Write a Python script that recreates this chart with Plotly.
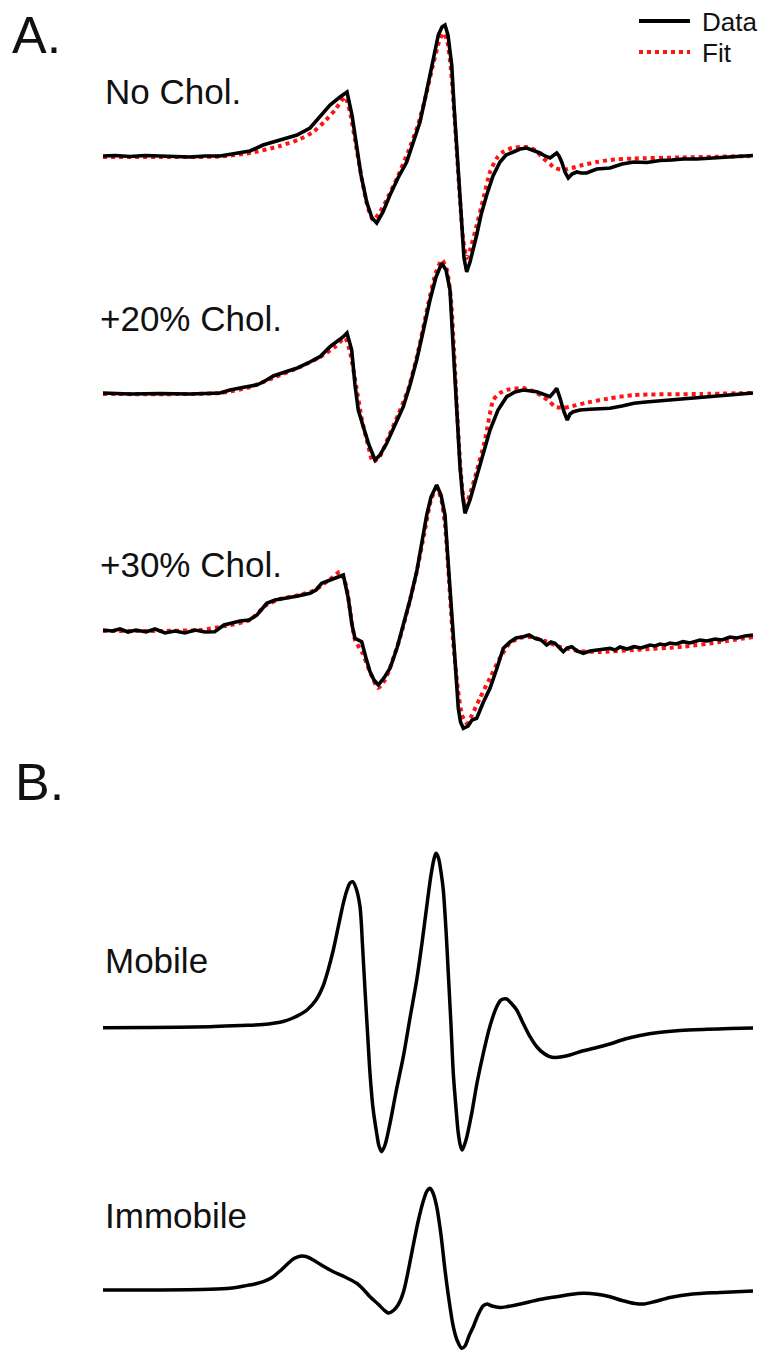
import numpy as np
import plotly.graph_objects as go

# ---------------- data (field in arbitrary units, signal in arbitrary units, up = positive) -------------
# A. No cholesterol
nochol_x = [103,115,130,145,160,175,190,205,220,235,250,263,280,297,310,320,330,340,347,352,356.7,361,366.7,372,376.7,383,390,398,406.7,413,420,425,430,434,438.3,442,445,448,451.7,454,456.7,459,461.7,464,466.7,470,476.7,481,486.7,493,500,506,513.3,520,526.7,533,540,545,550,554,556.7,559,561.7,565,568.3,572,576.7,581,586.7,596.7,610,622,634,647,660,672,683,697,710,720,730,742,753]
nochol_data = [0,0.5,-0.5,0.5,0,-0.5,-1,0,0,2.5,5,11,16,21,28,39,51,59,64,41,8,-19,-46,-62,-67,-56,-39,-22,-6,13,34,57,81,101,121,129,131,121,91,51,8,-34,-76,-102,-116,-106,-79,-59,-39,-20,-6,1,4,7,8,6,3,0,-2,1,3,0,-6,-16,-22,-18,-16,-17,-17,-13,-12,-8,-6,-6.5,-4.5,-4,-3,-3,-2,-1.5,-1,0,0.5]
nochol_fit_x = [103,160,220,250,280,300,313,325,335,345,350,355,362,368,373.3,380,388,398,408,418,426,433,439,443.3,447,451,454,457,460,463,466.7,470,476,483,490,497,503,512,526.7,535,543,550,555,563,572,583,597,610,634,680,753]
nochol_fit = [-1,-1,-0.5,3,10,17,24,35,46,59,44,16,-24,-52,-64,-56,-41,-20,4,31,61,91,114,123,116,86,46,1,-44,-82,-102,-94,-72,-44,-16,-2,4,8,9,6,-2,-8,-12,-14,-12,-9,-6,-4,-2.5,-1.5,0]

# A. +20% cholesterol
chol20_x = [103,130,160,190,220,230,245,256.7,265,273.3,285,296.7,308,320,330,338,343,347,351.7,355,358.3,363.3,369,375,380,386.7,395,403.3,410,416.7,423,430,436,441.7,446,450,452.5,455,457.5,460,462.5,465,470,476.7,483,490,498,506.7,515,523.3,536.7,545,550,554,556.7,560,564,567.3,570,573.3,580,590,600,610,622,634,646,658,670,680,692,705,720,735,753]
chol20_data = [0,-1,-0.5,-1,0,3,6,8,12,17,21,24.7,30,36.3,46.3,52,56,60,43,8,-17,-33.7,-52,-67,-62,-50.3,-32,-13.7,8,33,61,93,116,129.7,123,103,58,9.7,-32,-73.7,-102,-120.3,-107,-83.7,-59,-37,-17,-3.7,1,3,1.3,-2,-3.7,1,4.7,-5,-19,-27,-21,-18.7,-17,-16.3,-16,-15.3,-13,-10.3,-9,-8,-6.5,-6,-5,-3.5,-3,-1.5,0]
chol20_fit_x = [103,220,250,273,300,320,335,345,350,356,362,368,373,380,388,398,408,418,428,436,442,447,451,454,457,461,465,470,477,485,493.3,500,506.7,523,535,543,550,555,563,570,585,610,634,700,753]
chol20_fit = [-1,0,6,15,26,36,46,55,41,8,-27,-52,-69,-63,-45,-22,3,41,88,121,133,123,93,43,-17,-82,-114,-101,-77,-47,-7,0,3,5,1,-3.7,-9,-13.7,-15,-13.7,-10,-5.3,-2,-1,0]

# A. +30% cholesterol
chol30_x = [103,112,120,128,136,146,155,165,175,185,195,205,214.6,224,232,240,249,257,262,266.7,275,286.7,298,310,316,321.7,330,337,343.3,348.3,352,355,359,361.7,366,370,374,378.3,384,390,397,403.3,410,416.7,422,426.7,431,436.7,441,445,448,451.7,455,458.3,460.5,463.3,468,472,476.7,483,490,497,503.3,510,516,523.3,529,535,541,546.7,551,555,559,563.3,567,571.7,577,583.3,590,600,610,615,620,627,634,641,650,655,660,665,670,676,683,690,700,707,715,722,730,737,745,753]
chol30_data = [0,-1,1,-2,0,-2,1,-3,-1,-3,0,-2,-1.7,5,7,9,10,15,21,26.7,30,31.7,34,36.7,40,46.7,50,52,55,31.7,5,-8.3,-10,-11.7,-28,-41.7,-50,-55,-48,-38.3,-18,5,30,58.3,88,115,133,145,135,115,70,21.7,-30,-78.3,-92,-98.3,-96,-90,-88.3,-73,-58.3,-38,-18.3,-12,-8,-6.7,-5,-8.3,-10,-15,-12,-13.3,-18,-21.7,-18,-16.7,-21,-23.3,-21,-20,-18.3,-20,-17,-19,-16.7,-18,-15,-16,-14,-15,-13,-14,-11.7,-13,-10,-11,-9,-10,-7,-8,-6,-5]
chol30_fit_x = [103,150,200,225,250,265,280,300,315,325,333,340,346,350,355,362,370,378,385,392,400,408,416,424,431,436.7,441,445,449,453,458,462,466.7,472,480,490,500,510,520,530,545,560,580,600,634,683,720,753]
chol30_fit = [-1,-1,0,4,10,24,31,35,40,47,53,58.3,45,20,-10,-22,-42,-58,-50,-32,-8,22,55,95,130,142,132,105,50,-10,-60,-85,-93.3,-85,-68,-48,-28,-13,-8,-7,-11,-17,-21,-22,-20,-16.7,-12,-7]

# B. simulated components
mobile_x = [103,150,210,240,263,275,283,293,300,307,316,323.3,328,333.3,338,343.3,347,350,352.7,356,360,362.5,365,367.5,370,373,376.7,379,381.7,385,390,396,403.3,410,416.7,422,426.7,431,434,436,438.5,441,443.3,446,448.3,451,453.3,456,458.3,460.5,462.3,466,471.7,477,483.3,490,496.7,501,506.7,511,516.7,523,530,537,543.3,549,555,562,570,580,595,609.8,625,640,658.5,680,707,730,753]
mobile = [-0.2,0,0.8,2,3,4.5,6,9.5,13,17.5,27.5,42,57,77.5,99.5,124.2,137.5,144.5,145.8,139.5,120.8,82.5,37.5,-4.5,-45.8,-80.5,-105.8,-118.5,-124.2,-117.5,-95.8,-64.5,-29.2,9.5,47.5,84.5,120.8,152.5,168.5,174.2,169.5,155.5,137.5,97.5,54.2,2.5,-45.8,-80.5,-105.8,-118.5,-122.5,-112.5,-85.8,-55.5,-25.8,1.5,20.8,27.5,28.5,24.5,17.5,4.5,-9.2,-19.5,-25.5,-28.8,-30,-29.3,-27.5,-24.2,-20.5,-16.5,-11.5,-8,-5,-3,-1.8,-1,-0.5]
immobile_x = [103,150,210,230,244,255,263.3,272,280,288,294,300,306,313.3,323,333.3,345,356.7,363,370,378,384,388,390,394,398,401,404,408,413.3,418,423.3,427,430,433,436.7,441,445,449,453.3,457,461.7,465,469,473.3,478,483,487,492,500,506.7,518,530,545,556.7,570,583.3,597,610,622,635,644,655,670,692.7,720,753]
immobile = [0,0,0.7,1.7,4,6,8.3,12.5,19,26.5,31.5,33.8,33.5,30,24,18.3,13,6.7,1,-6.7,-14,-20,-23,-22.7,-20,-15,-9,0,18,45,68,89,99,101.7,97,83.3,55,20,-10,-36.7,-50,-58.3,-56,-46,-36.7,-25,-16,-14,-16,-17.5,-16.7,-14.5,-11.7,-8.5,-6.7,-4.5,-3.3,-4.2,-6.7,-10.5,-13.5,-14,-11.5,-7.5,-4,-2.5,-1]

labels = ["No Chol.", "+20% Chol.", "+30% Chol.", "Mobile", "Immobile"]
panel_labels = ["A.", "B."]
legend_labels = ["Data", "Fit"]

# ---------------- figure ----------------
W, H = 761, 1353
offsets = [156, 393, 630, 1027.5, 1290]   # vertical stacking offsets of the spectra
BLACK = "#000000"
RED = "#ff1414"

fig = go.Figure()

fits = [(nochol_fit_x, nochol_fit), (chol20_fit_x, chol20_fit), (chol30_fit_x, chol30_fit)]
datas = [(nochol_x, nochol_data), (chol20_x, chol20_data), (chol30_x, chol30_data)]

for i, (fx, fy) in enumerate(fits):
    fig.add_trace(go.Scatter(x=fx, y=np.array(fy) - offsets[i], mode="lines",
                             line=dict(color=RED, width=4, dash="dot", shape="spline", smoothing=0.6),
                             showlegend=False, hoverinfo="skip"))
for i, (dx, dy) in enumerate(datas):
    fig.add_trace(go.Scatter(x=dx, y=np.array(dy) - offsets[i], mode="lines",
                             line=dict(color=BLACK, width=3.6, shape="linear"),
                             showlegend=False, hoverinfo="skip"))
for j, (bx, by) in enumerate([(mobile_x, mobile), (immobile_x, immobile)]):
    fig.add_trace(go.Scatter(x=bx, y=np.array(by) - offsets[3 + j], mode="lines",
                             line=dict(color=BLACK, width=3.5, shape="spline", smoothing=0.8),
                             showlegend=False, hoverinfo="skip"))

FONT = "Liberation Sans, Arial, sans-serif"
ASC = 0.3465  # box-middle above baseline, in em

def text(s, left, baseline, size, color="#111111"):
    fig.add_annotation(x=left, y=-(baseline - ASC * size), xref="x", yref="y",
                       text=s, showarrow=False, xanchor="left", yanchor="middle",
                       borderpad=0, font=dict(family=FONT, size=size, color=color))

lab_pos = [(104, 104), (99, 331), (99, 577), (104, 973), (104, 1228)]
for s, (lx, by) in zip(labels, lab_pos):
    text(s, lx, by, 35)

text(panel_labels[0], 11, 53, 52)
text(panel_labels[1], 14, 800, 52)

# legend (drawn manually to match the original key)
fig.add_shape(type="line", x0=639, x1=690, y0=-21, y1=-21, xref="x", yref="y",
              line=dict(color=BLACK, width=4))
fig.add_shape(type="line", x0=639, x1=690, y0=-52, y1=-52, xref="x", yref="y",
              line=dict(color=RED, width=4, dash="dot"))
text(legend_labels[0], 701, 31, 26)
text(legend_labels[1], 701, 62, 26)

fig.update_xaxes(range=[0, W], visible=False, fixedrange=True)
fig.update_yaxes(range=[-H, 0], visible=False, fixedrange=True)
fig.update_layout(width=W, height=H, margin=dict(l=0, r=0, t=0, b=0),
                  paper_bgcolor="white", plot_bgcolor="white", showlegend=False)

fig.write_html("out.html", config={"displayModeBar": False})
